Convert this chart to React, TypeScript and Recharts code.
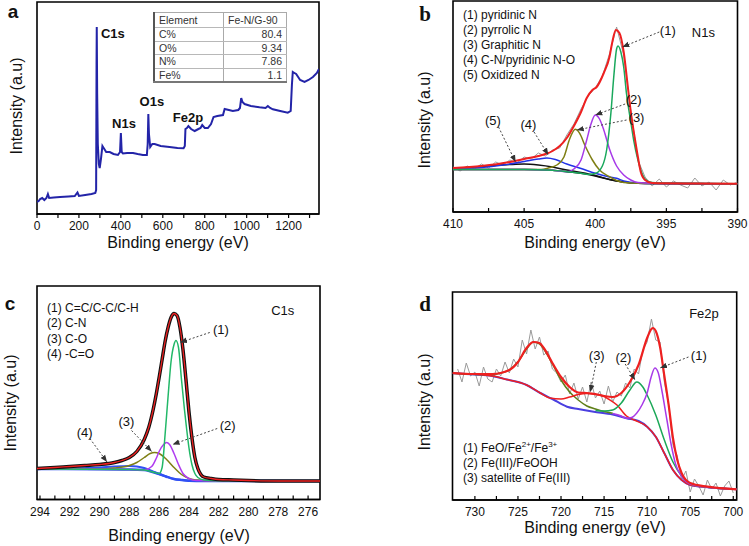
import React from 'react';
import { LineChart, Line, XAxis, YAxis, ReferenceArea, ReferenceLine, ReferenceDot } from 'recharts';

const SANS = '"Liberation Sans", Arial, Helvetica, sans-serif';
const SERIF = '"Liberation Serif", "Times New Roman", serif';

// ---------- (a) survey spectrum ----------
const surveyEnergy = [0, 8, 15, 25, 35, 45, 52, 58, 80, 110, 150, 180, 193, 200, 230, 260, 278, 282, 284, 285, 287, 290, 295, 299, 305, 312, 318, 330, 347, 365, 386, 396, 400, 404, 410, 430, 458, 480, 505, 524, 528, 531, 534, 540, 550, 561, 590, 632, 670, 699, 705, 708, 715, 722, 735, 752, 770, 780, 788, 800, 815, 830, 842, 860, 887, 895, 915, 934, 960, 968, 974, 980, 990, 1020, 1061, 1090, 1101, 1112, 1125, 1160, 1196, 1210, 1216, 1220, 1228, 1236, 1255, 1276, 1295, 1316, 1335, 1345];
const surveyCounts = [12, 13, 15, 16, 14, 16, 20, 16, 16.5, 17, 17.5, 18, 21.5, 18, 19, 20, 21, 24, 150, 187, 120, 70, 50, 46, 55, 68, 66, 62, 62, 60, 59, 62, 81, 62, 60.5, 61, 61, 60, 59, 59, 70, 100, 80, 67, 70, 70, 68, 67, 66, 65.7, 68, 85, 86, 88, 85, 83, 85, 86, 89, 86, 86, 90, 97, 98, 99, 105, 104, 103, 104, 106, 116, 112, 110, 108, 106.7, 106, 108, 106, 104.7, 103, 101.3, 103, 130, 142, 141, 140, 134, 132, 134, 137, 141, 145];
const surveyLabels = ['C1s', 'N1s', 'O1s', 'Fe2p'];
const surveyLabelE = [362, 415, 548, 720];
const surveyLabelV = [181, 91, 113, 97];
const tableRows = ['C%', 'O%', 'N%', 'Fe%'];
const tableValues = ['80.4', '9.34', '7.86', '1.1'];

// ---------- (b) N1s ----------
const n1sRawE = [410, 409.5, 409, 408.5, 408, 407.5, 407, 406.5, 406, 405.5, 405, 404.5, 404, 403.5, 403, 402.5, 402, 401.5, 401, 400.5, 400, 399.5, 399, 398.5, 398, 397.5, 397, 396.5, 396, 395.5, 395, 394.5, 394, 393.5, 393, 392.5, 392, 391.5, 391, 390.5, 390];
const n1sRaw = [45, 41, 46, 43, 48, 44, 50, 47, 52, 49, 55, 53, 59, 56, 62, 64, 77, 88, 103, 116, 124, 136, 158, 185, 157, 101, 52, 35, 26, 33, 25, 31, 27, 24, 34, 26, 30, 22, 32, 27, 30];
const n1sFitE = [410, 408, 406, 405, 404, 403.5, 403, 402.5, 402, 401.5, 401, 400.6, 400.2, 399.9, 399.4, 399, 398.8, 398.55, 398.3, 398, 397.7, 397.5, 397.2, 397, 396.8, 396.5, 396, 393, 390];
const n1sFit = [44, 46, 50, 53, 56, 58, 61, 66, 74, 86, 100, 114, 122, 125, 139, 155, 170, 182, 179, 160, 124, 100, 72, 55, 40, 32, 29, 28.5, 28.3];
const pyridinicE = [410, 405, 403, 402, 401, 400.5, 400, 399.5, 399.2, 398.9, 398.7, 398.5, 398.4, 398.2, 398, 397.8, 397.5, 397.3, 397, 396.8, 396.5, 396, 395, 390];
const pyridinic = [42.5, 42.5, 41.7, 40.3, 38.7, 37.5, 38.5, 46, 62, 99, 135, 163, 166, 160, 145, 118, 90, 72, 52, 42, 33, 29.5, 28.7, 28.3];
const pyrrolicE = [410, 405, 403, 402, 401.5, 401, 400.6, 400.3, 400, 399.7, 399.4, 399, 398.5, 398, 397.5, 397, 396, 390];
const pyrrolic = [42.5, 42.5, 41.7, 40.3, 43, 52, 72, 88, 97, 93, 82, 63, 46, 37, 32, 29.5, 28.7, 28.3];
const graphiticE = [410, 405, 403.8, 403.3, 402.7, 402.2, 401.8, 401.4, 401, 400.8, 400.5, 400.2, 399.7, 399, 398.5, 398, 397, 390];
const graphitic = [42.5, 42.5, 42.5, 44, 47, 55, 73, 82.7, 76, 69, 60, 52, 42, 35.3, 31.5, 29.5, 28.7, 28.3];
const pyridinicOxE = [410, 408, 406.5, 405, 404, 403.4, 402.8, 402, 401, 400, 399, 398.5, 398, 397, 396, 390];
const pyridinicOx = [43, 44.5, 47, 50.5, 53, 54, 52.5, 48, 43.5, 38.7, 35, 33.7, 31, 29, 28.5, 28.3];
const oxidizedE = [410, 408, 406, 405, 404, 403, 402, 401, 400, 399, 398, 397, 396, 390];
const oxidized = [43.5, 45.5, 47.5, 48, 47, 45, 42, 39.5, 36.5, 32.5, 30, 28.8, 28.4, 28.3];
const n1sBgE = [410, 405, 403, 402, 401, 400, 399, 398, 397, 396, 390];
const n1sBg = [42.5, 42.5, 41.7, 40.3, 38.7, 36, 32.5, 30, 28.8, 28.4, 28.3];
const n1sLegend = ['(1) pyridinic N', '(2) pyrrolic N', '(3) Graphitic N', '(4) C-N/pyridinic N-O', '(5) Oxidized N'];

// ---------- (c) C1s ----------
const c1sFitE = [294.2, 293, 292, 291, 290, 289, 288.5, 288, 287.5, 287, 286.7, 286.4, 286.2, 286, 285.8, 285.6, 285.4, 285.2, 285, 284.8, 284.6, 284.4, 284.2, 284, 283.8, 283.6, 283.4, 283.2, 283, 282.5, 282, 281, 280, 278, 276, 275.2];
const c1sFit = [31, 32, 33, 34, 35, 37, 39, 42, 48, 60, 72, 90, 105, 122, 140, 158, 172, 182, 186, 184, 172, 150, 120, 88, 62, 42, 31, 25, 22.5, 21, 20, 19.5, 19, 18.5, 18.5, 18.5];
const ccE = [294.2, 288, 287, 286.3, 286, 285.8, 285.6, 285.4, 285.2, 285, 284.87, 284.7, 284.5, 284.3, 284.15, 284, 283.8, 283.6, 283.4, 283, 282, 275.2];
const cc = [30.5, 30, 29.5, 27, 26, 32, 65, 103, 138, 155, 159, 152, 120, 90, 70, 52, 35, 26, 22, 19.5, 18.8, 18.5];
const cnE = [294.2, 288, 287, 286.5, 286.2, 286, 285.7, 285.5, 285.3, 285, 284.7, 284.4, 284, 283.5, 282, 275.2];
const cn = [30.5, 30, 29.5, 33, 41, 48, 55, 57, 55, 46, 35, 26, 21, 19, 18.7, 18.5];
const coE = [294.2, 290, 289, 288, 287.5, 287, 286.6, 286.3, 286, 285.5, 285, 284.5, 284, 283.5, 283, 281, 275.2];
const co = [30.5, 30.5, 31.5, 34, 37, 42, 46, 47, 46, 40, 32, 25, 21, 19.5, 19, 18.7, 18.5];
const carbonylE = [294.2, 292, 290, 289, 288, 287.5, 287, 286.5, 286, 285.5, 285, 284.5, 284, 275.2];
const carbonyl = [30.5, 31, 32, 33, 33.5, 33, 31.5, 28.5, 25.5, 22.8, 20.5, 19.5, 18.8, 18.5];
const c1sBgE = [294.2, 290, 288, 287, 286.5, 286, 285.5, 285, 284.5, 284, 283, 275.2];
const c1sBg = [30.5, 30.2, 30, 29.5, 27.8, 25.5, 22.8, 20.5, 19.5, 18.8, 18.5, 18.5];
const c1sLegend = ['(1) C=C/C-C/C-H', '(2) C-N', '(3) C-O', '(4) -C=O'];

// ---------- (d) Fe2p ----------
const feRawE = [732, 731.5, 731, 730.5, 730, 729.5, 729, 728.5, 728, 727.5, 727, 726.5, 726, 725.5, 725, 724.5, 724, 723.5, 723, 722.5, 722, 721.5, 721, 720.5, 720, 719.5, 719, 718.5, 718, 717.5, 717, 716.5, 716, 715.5, 715, 714.5, 714, 713.5, 713, 712.5, 712, 711.5, 711, 710.5, 710, 709.5, 709, 708.5, 708, 707.5, 707, 706.5, 706, 705.5, 705, 704.5, 704, 703.5, 703, 702.5, 702, 701.5, 701, 700.5, 700];
const feRaw = [131, 118, 137, 124, 128, 114, 133, 121, 118, 131, 124, 138, 127, 141, 133, 160, 146, 170, 151, 163, 145, 149, 131, 127, 118, 125, 106, 117, 101, 113, 98, 118, 102, 109, 96, 114, 98, 108, 104, 117, 112, 131, 126, 150, 158, 181, 160, 158, 118, 95, 55, 44, 20, 29, 8, 21, 14, 5, 20, 11, 17, 4, 14, 19, 7];
const feFitE = [732.6, 730, 728, 726, 725, 724, 723.2, 722.5, 722, 721, 720, 719, 718, 717, 716, 715, 714, 713, 712, 711, 710, 709.5, 709.3, 709, 708.5, 708, 707.5, 707, 706.5, 706, 705, 703, 699.6];
const feFit = [127, 126, 126, 130, 138, 152, 158, 157, 152, 137, 123, 113, 107.5, 107, 106, 104, 103, 107, 118, 135, 162, 171, 172, 169, 153, 124, 95, 62, 40, 27, 17, 13.3, 10.7];
const satelliteE = [732.6, 728, 726.3, 724, 722.4, 721.3, 720, 719, 718, 717, 716, 715, 714.5, 713.5, 712.4, 711.5, 710, 709, 708, 707, 706, 705, 703, 699.6];
const satellite = [126.7, 124, 120.5, 115, 107, 102, 101, 103, 105.5, 106.5, 105.5, 103.5, 101, 95, 84, 80, 73.3, 63.3, 46.7, 30, 20, 15, 12.7, 10.7];
const feBgE = [732.6, 730, 728, 726.3, 724, 722.4, 721, 719.3, 718, 716.2, 714, 712.4, 711, 710, 709, 708, 707, 706, 705, 703, 699.6];
const feBg = [126.7, 125.5, 124, 120.5, 115, 107, 101, 93.3, 91, 88.3, 85.5, 81.7, 79, 73.3, 63.3, 46.7, 30, 20, 15, 12.7, 10.7];
const fe2p12E = [732.6, 728, 727, 726, 725, 724, 723.2, 722.5, 722, 721, 720, 719, 718, 717, 716, 715, 714];
const fe2p12 = [126.7, 125, 127, 130, 138, 151, 158, 156, 151, 136, 120, 108, 100, 94, 91, 88.5, 86.7];
const feoohE = [716, 715, 714, 713, 712, 711.2, 710.5, 710, 709, 708, 707, 706, 705, 703, 699.6];
const feooh = [89.5, 89, 90, 97, 110, 118, 113, 105, 85, 60, 38, 24, 16, 12.7, 10.7];
const feoE = [714, 713, 712.4, 711.8, 711.2, 710.6, 710, 709.5, 709.1, 708.7, 708.3, 707.7, 707.2, 706.7, 706, 705, 703, 699.6];
const feo = [86.5, 84, 81.7, 82.5, 87, 95, 107, 124, 132, 127, 110, 80, 55, 36, 24, 16, 12.7, 10.7];

const zip = (e: number[], v: number[]) => e.map((x, i) => ({ e: x, v: v[i] }));

type Curve = { e: number[]; v: number[]; color: string; w: number; kind?: 'linear' | 'monotone' };
type Mark = { text: string; e: number; v: number; bold?: boolean; size?: number };
type Pointer = { e1: number; v1: number; e2: number; v2: number };

const arrowShape = (p: any) => (
  <line x1={p.x1} y1={p.y1} x2={p.x2} y2={p.y2} stroke="#444" strokeWidth={1} strokeDasharray="2 2" markerEnd="url(#tip)" />
);

function Panel(props: {
  box: number[];
  margin: { top: number; right: number; bottom: number; left: number };
  domain: [number, number];
  reversed?: boolean;
  yMax: number;
  ticks: number[];
  majors: number[];
  outward?: boolean;
  curves: Curve[];
  marks?: Mark[];
  pointers?: Pointer[];
}) {
  const { box, margin, domain, reversed, yMax, ticks, majors, outward, curves, marks = [], pointers = [] } = props;
  // the x axis takes 1px of height below the plot, so take it off the bottom margin
  const m = { ...margin, bottom: margin.bottom - 1 };
  return (
    <div style={{ position: 'absolute', left: box[0], top: box[1] }}>
      <LineChart width={box[2]} height={box[3]} margin={m}>
        <XAxis
          type="number"
          dataKey="e"
          domain={domain}
          reversed={reversed}
          allowDataOverflow
          ticks={ticks}
          interval={0}
          height={1}
          tickSize={outward ? 4 : -4}
          tickMargin={outward ? 3.5 : 11.5}
          tickFormatter={(t: number) => (majors.includes(t) ? String(t) : '')}
          tick={{ fontSize: 12, fill: '#111', fontFamily: SANS }}
          axisLine={{ stroke: '#000', strokeWidth: 1.5 }}
          tickLine={{ stroke: '#000', strokeWidth: 1.2 }}
        />
        <YAxis type="number" domain={[0, yMax]} hide allowDataOverflow />
        <ReferenceArea x1={domain[0]} x2={domain[1]} y1={0} y2={yMax} fill="none" stroke="#000" strokeWidth={1.6} ifOverflow="visible" />
        {curves.map((c, i) => (
          <Line
            key={i}
            data={zip(c.e, c.v)}
            dataKey="v"
            type={c.kind ?? 'monotone'}
            stroke={c.color}
            strokeWidth={c.w}
            dot={false}
            isAnimationActive={false}
          />
        ))}
        {pointers.map((p, i) => (
          <ReferenceLine key={'p' + i} segment={[{ x: p.e1, y: p.v1 }, { x: p.e2, y: p.v2 }]} shape={arrowShape} ifOverflow="visible" />
        ))}
        {marks.map((m2, i) => (
          <ReferenceDot
            key={'m' + i}
            x={m2.e}
            y={m2.v}
            r={0}
            fill="none"
            stroke="none"
            ifOverflow="visible"
            label={{ value: m2.text, position: 'center', fill: '#111', fontSize: m2.size ?? 13, fontWeight: m2.bold ? 'bold' : 'normal', fontFamily: SANS }}
          />
        ))}
      </LineChart>
    </div>
  );
}

const Txt = (p: { x: number; y: number; size?: number; bold?: boolean; serif?: boolean; rotate?: boolean; left?: boolean; children: React.ReactNode }) => (
  <div
    style={{
      position: 'absolute',
      left: p.x,
      top: p.y,
      transform: `translate(${p.left ? '0' : '-50%'}, -50%)${p.rotate ? ' rotate(-90deg)' : ''}`,
      fontSize: p.size ?? 12,
      fontWeight: p.bold ? 'bold' : 'normal',
      fontFamily: p.serif ? SERIF : SANS,
      lineHeight: 1,
      whiteSpace: 'nowrap',
      color: '#111',
    }}
  >
    {p.children}
  </div>
);

const cellBase: React.CSSProperties = { borderBottom: '1px solid #b8b8b8', padding: '0 4px', lineHeight: '12.5px' };

export default function App() {
  return (
    <div style={{ position: 'absolute', left: 0, top: 0, width: 749, height: 546, background: '#fff', overflow: 'hidden' }}>
      <svg width={0} height={0} style={{ position: 'absolute' }}>
        <defs>
          <marker id="tip" viewBox="0 0 10 10" refX="10" refY="5" markerWidth="7" markerHeight="7" markerUnits="userSpaceOnUse" orient="auto">
            <path d="M0,1 L10,5 L0,9 z" fill="#333" />
          </marker>
        </defs>
      </svg>

      {/* (a) */}
      <Panel
        box={[0, 0, 375, 265]}
        margin={{ top: 2, right: 56, bottom: 51, left: 37 }}
        domain={[0, 1345]}
        yMax={212}
        ticks={[0, 100, 200, 300, 400, 500, 600, 700, 800, 900, 1000, 1100, 1200, 1300]}
        majors={[0, 200, 400, 600, 800, 1000, 1200]}
        outward
        curves={[{ e: surveyEnergy, v: surveyCounts, color: '#2324a8', w: 2, kind: 'linear' }]}
        marks={surveyLabels.map((t, i) => ({ text: t, e: surveyLabelE[i], v: surveyLabelV[i], bold: true, size: 13 }))}
      />
      <table
        style={{
          position: 'absolute',
          left: 153,
          top: 12,
          width: 134,
          borderCollapse: 'collapse',
          fontFamily: SANS,
          fontSize: 10.5,
          color: '#333',
          borderLeft: '2px solid #555',
          borderTop: '1px solid #aaa',
          borderRight: '1px solid #aaa',
          borderBottom: '2px solid #777',
        }}
      >
        <tbody>
          <tr style={{ height: 15 }}>
            <td style={{ ...cellBase, width: 60, borderRight: '1px solid #aaa' }}>Element</td>
            <td style={{ ...cellBase }}>Fe-N/G-90</td>
          </tr>
          {tableRows.map((r, i) => (
            <tr key={r} style={{ height: 13.5 }}>
              <td style={{ ...cellBase, borderRight: '1px solid #aaa' }}>{r}</td>
              <td style={{ ...cellBase, textAlign: 'right' }}>{tableValues[i]}</td>
            </tr>
          ))}
        </tbody>
      </table>
      <Txt x={13} y={11} size={19} bold>a</Txt>
      <Txt x={17} y={106} size={16} rotate>Intensity (a.u)</Txt>
      <Txt x={178} y={243} size={16}>Binding energy (eV)</Txt>

      {/* (b) */}
      <Panel
        box={[375, 0, 374, 265]}
        margin={{ top: 1, right: 11.5, bottom: 53, left: 78 }}
        domain={[390, 410]}
        reversed
        yMax={211}
        ticks={[410, 407.5, 405, 402.5, 400, 397.5, 395, 392.5, 390]}
        majors={[410, 405, 400, 395, 390]}
        curves={[
          { e: n1sRawE, v: n1sRaw, color: '#9a9a9a', w: 1, kind: 'linear' },
          { e: n1sBgE, v: n1sBg, color: '#111', w: 1.5 },
          { e: oxidizedE, v: oxidized, color: '#111', w: 1.5 },
          { e: pyridinicOxE, v: pyridinicOx, color: '#2233e6', w: 1.5 },
          { e: graphiticE, v: graphitic, color: '#7f7f14', w: 1.5 },
          { e: pyrrolicE, v: pyrrolic, color: '#a73ae8', w: 1.5 },
          { e: pyridinicE, v: pyridinic, color: '#19a85c', w: 1.5 },
          { e: n1sFitE, v: n1sFit, color: '#ee2020', w: 2 },
        ]}
        pointers={[
          { e1: 395.5, v1: 180, e2: 398.1, v2: 165 },
          { e1: 397.9, v1: 108, e2: 400, v2: 97 },
          { e1: 397.8, v1: 92, e2: 401.3, v2: 82 },
          { e1: 404.3, v1: 80, e2: 403.3, v2: 57 },
          { e1: 406.8, v1: 85, e2: 405.6, v2: 50 },
        ]}
        marks={[
          { text: '(1)', e: 394.9, v: 182 },
          { text: '(2)', e: 397.3, v: 113 },
          { text: '(3)', e: 397.1, v: 95 },
          { text: '(4)', e: 404.7, v: 88 },
          { text: '(5)', e: 407.2, v: 92 },
          { text: 'N1s', e: 392.4, v: 180 },
        ]}
      />
      {n1sLegend.map((t, i) => (
        <Txt key={t} x={463} y={15 + i * 15} size={12} left>{t}</Txt>
      ))}
      <Txt x={425} y={14} size={21} bold serif>b</Txt>
      <Txt x={425} y={120} size={16} rotate>Intensity (a.u)</Txt>
      <Txt x={595} y={243} size={16}>Binding energy (eV)</Txt>

      {/* (c) */}
      <Panel
        box={[0, 270, 375, 276]}
        margin={{ top: 16, right: 55, bottom: 46.5, left: 37 }}
        domain={[275.2, 294.2]}
        reversed
        yMax={213.5}
        ticks={[294, 293, 292, 291, 290, 289, 288, 287, 286, 285, 284, 283, 282, 281, 280, 279, 278, 277, 276]}
        majors={[294, 292, 290, 288, 286, 284, 282, 280, 278, 276]}
        curves={[
          { e: c1sBgE, v: c1sBg, color: '#2b4cf0', w: 2.5 },
          { e: carbonylE, v: carbonyl, color: '#3050f5', w: 2 },
          { e: coE, v: co, color: '#7f7f14', w: 1.5 },
          { e: cnE, v: cn, color: '#b03cf0', w: 1.5 },
          { e: ccE, v: cc, color: '#22b868', w: 1.5 },
          { e: c1sFitE, v: c1sFit, color: '#111', w: 3.5 },
          { e: c1sFitE, v: c1sFit, color: '#ee2020', w: 1.3 },
        ]}
        pointers={[
          { e1: 282.6, v1: 167, e2: 284.6, v2: 157 },
          { e1: 282.1, v1: 71, e2: 285.1, v2: 55 },
          { e1: 287.85, v1: 69, e2: 286.5, v2: 48 },
          { e1: 290.65, v1: 61, e2: 289.5, v2: 37.5 },
        ]}
        marks={[
          { text: '(1)', e: 281.85, v: 170 },
          { text: '(2)', e: 281.4, v: 74 },
          { text: '(3)', e: 288.2, v: 78 },
          { text: '(4)', e: 291, v: 67 },
          { text: 'C1s', e: 277.7, v: 189 },
        ]}
      />
      {c1sLegend.map((t, i) => (
        <Txt key={t} x={47} y={308 + i * 15.3} size={12} left>{t}</Txt>
      ))}
      <Txt x={10} y={303} size={19} bold>c</Txt>
      <Txt x={11} y={403} size={16} rotate>Intensity (a.u)</Txt>
      <Txt x={179} y={536} size={16}>Binding energy (eV)</Txt>

      {/* (d) */}
      <Panel
        box={[375, 270, 374, 276]}
        margin={{ top: 22, right: 12.3, bottom: 46, left: 77.5 }}
        domain={[699.6, 732.6]}
        reversed
        yMax={208}
        ticks={[730, 727.5, 725, 722.5, 720, 717.5, 715, 712.5, 710, 707.5, 705, 702.5, 700]}
        majors={[730, 725, 720, 715, 710, 705, 700]}
        curves={[
          { e: feRawE, v: feRaw, color: '#9a9a9a', w: 1, kind: 'linear' },
          { e: feBgE, v: feBg, color: '#4a3fe0', w: 2 },
          { e: fe2p12E, v: fe2p12, color: '#5f7f18', w: 1.5 },
          { e: satelliteE, v: satellite, color: '#ee2020', w: 1.5 },
          { e: feoohE, v: feooh, color: '#1ca858', w: 1.5 },
          { e: feoE, v: feo, color: '#a73ae8', w: 1.5 },
          { e: feFitE, v: feFit, color: '#ee2020', w: 2.2 },
        ]}
        pointers={[
          { e1: 715.9, v1: 138, e2: 716.6, v2: 108 },
          { e1: 712.55, v1: 136, e2: 711.4, v2: 120 },
          { e1: 705.2, v1: 143, e2: 708.5, v2: 132 },
        ]}
        marks={[
          { text: '(3)', e: 715.85, v: 145 },
          { text: '(2)', e: 712.75, v: 143 },
          { text: '(1)', e: 704, v: 145 },
          { text: 'Fe2p', e: 703.4, v: 187 },
        ]}
      />
      <Txt x={463} y={447} size={12} left>(1) FeO/Fe<sup style={{ fontSize: 8 }}>2+</sup>/Fe<sup style={{ fontSize: 8 }}>3+</sup></Txt>
      <Txt x={463} y={463} size={12} left>(2) Fe(III)/FeOOH</Txt>
      <Txt x={463} y={478} size={12} left>(3) satellite of Fe(III)</Txt>
      <Txt x={425} y={304} size={21} bold serif>d</Txt>
      <Txt x={425} y={402} size={16} rotate>Intensity (a.u)</Txt>
      <Txt x={595} y={528} size={16}>Binding energy (eV)</Txt>
    </div>
  );
}
